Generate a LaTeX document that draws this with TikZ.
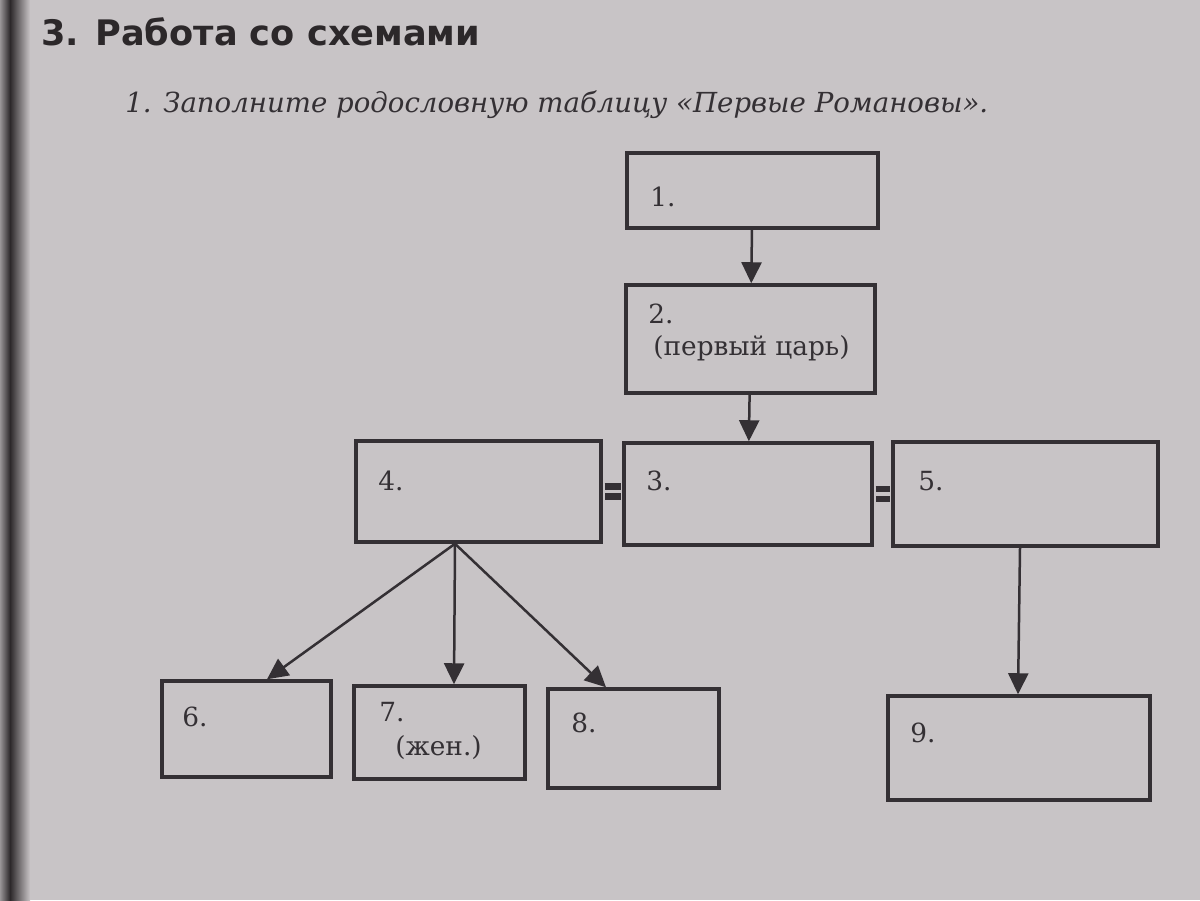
\documentclass[tikz,border=0pt]{standalone}
\usepackage{fontspec}
\setmainfont{DejaVu Serif}
\newfontfamily\headfont{DejaVu Sans}
\usetikzlibrary{arrows.meta}
\definecolor{paper}{RGB}{200,196,198}
\definecolor{ink}{RGB}{52,48,52}
\definecolor{binding}{RGB}{44,40,42}

\begin{document}
\begin{tikzpicture}[x=0.2mm, y=-0.2mm,
        box/.style={rectangle, draw=ink, line width=0.7mm, inner sep=0pt},
        num/.style={anchor=base west, inner sep=0pt, text=ink, font=\fontsize{15}{18}\selectfont},
        arrow/.style={-{Triangle[length=4.2mm, width=4mm]}, draw=ink, line width=0.5mm},
        marry/.style={draw=ink, line width=1.3mm, double=paper, double distance=0.7mm, shorten <=0.35mm, shorten >=0.35mm}
    ]

    \fill[paper] (0,0) rectangle (1200,900);
    \shade[left color=paper!70!binding, right color=binding] (0,0) rectangle (10,900);
    \shade[left color=binding, right color=paper] (10,0) rectangle (30,900);
    \useasboundingbox (0,0) rectangle (1200,900);

    \node[anchor=base west, inner sep=0pt, text=binding, font=\fontsize{20}{24}\selectfont\headfont\bfseries] (title) at (41,45) {3. Работа со схемами};
    \node[anchor=base west, inner sep=0pt, text=ink, font=\fontsize{15.7}{19}\selectfont\itshape] (task) at (125,112) {1. Заполните родословную таблицу «Первые Романовы».};

    \node[box, minimum width=50.2mm, minimum height=15mm] (b1) at (752.5,190.5) {};
    \node[box, minimum width=49.8mm, minimum height=21.6mm] (b2) at (750.5,339) {};
    \node[box, minimum width=49.6mm, minimum height=20.4mm] (b3) at (748,494) {};
    \node[box, minimum width=49mm, minimum height=20.2mm] (b4) at (478.5,491.5) {};
    \node[box, minimum width=53mm, minimum height=20.8mm] (b5) at (1025.5,494) {};
    \node[box, minimum width=33.8mm, minimum height=19.2mm] (b6) at (246.5,729) {};
    \node[box, minimum width=34.2mm, minimum height=18.6mm] (b7) at (439.5,732.5) {};
    \node[box, minimum width=34.2mm, minimum height=19.8mm] (b8) at (633.5,738.5) {};
    \node[box, minimum width=52.4mm, minimum height=20.8mm] (b9) at (1019,748) {};

    \node[num] (l1) at (650,206) {1.};
    \node[num] (l2) at (648,323) {2.};
    \node[num] (l2a) at (653,355) {(первый царь)};
    \node[num] (l3) at (646,490) {3.};
    \node[num] (l4) at (378,490) {4.};
    \node[num] (l5) at (918,490) {5.};
    \node[num] (l6) at (182,726) {6.};
    \node[num] (l7) at (379,721) {7.};
    \node[num] (l7a) at (395,755) {(жен.)};
    \node[num] (l8) at (571,732) {8.};
    \node[num] (l9) at (910,742) {9.};

    \draw[arrow] (b1) -- (b2);
    \draw[arrow] (b2) -- (b3);
    \coordinate (fork) at ([xshift=-4.7mm]b4.south);
    \draw[arrow] (fork) -- ([xshift=4.1mm]b6.north);
    \draw[arrow] (fork) -- ([xshift=2.9mm]b7.north);
    \draw[arrow] (fork) -- ([xshift=-5.5mm]b8.north);
    \draw[arrow] ([xshift=-1.1mm]b5.south) -- ([xshift=-0.2mm]b9.north);
    \draw[marry] (b4.east) -- (b4.east -| b3.west);
    \draw[marry] (b3.east) -- (b3.east -| b5.west);

\end{tikzpicture}
\end{document}
